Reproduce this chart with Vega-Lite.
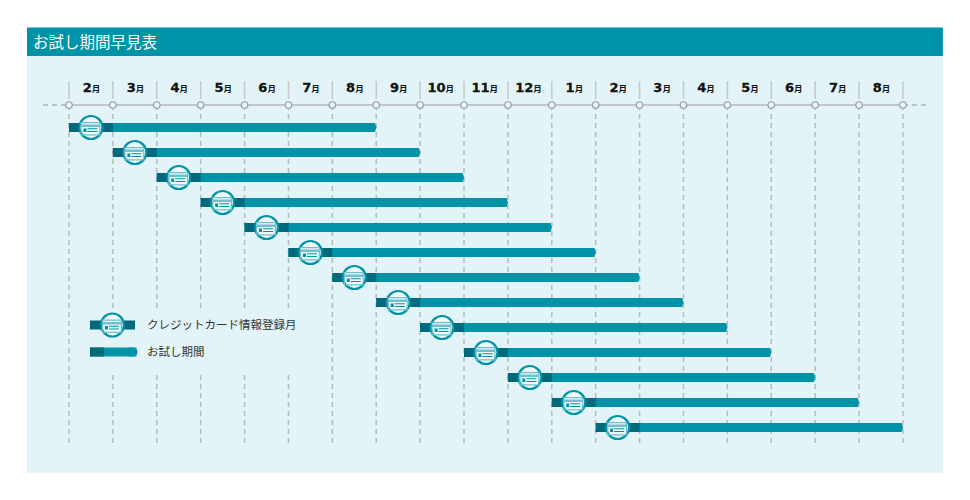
{
"$schema":"https://vega.github.io/schema/vega-lite/v6.json",
"width":970,"height":500,"padding":0,"autosize":{"type":"none"},"background":"#ffffff",
"view":{"stroke":null},
"datasets":{
"ticks":[{"x":0},{"x":1},{"x":2},{"x":3},{"x":4},{"x":5},{"x":6},{"x":7},{"x":8},{"x":9},{"x":10},{"x":11},{"x":12},{"x":13},{"x":14},{"x":15},{"x":16},{"x":17},{"x":18},{"x":19}],
"labels":[{"x":0.52,"m":"2"},{"x":1.52,"m":"3"},{"x":2.52,"m":"4"},{"x":3.52,"m":"5"},{"x":4.52,"m":"6"},{"x":5.52,"m":"7"},{"x":6.52,"m":"8"},{"x":7.52,"m":"9"},{"x":8.58,"m":"10"},{"x":9.58,"m":"11"},{"x":10.58,"m":"12"},{"x":11.52,"m":"1"},{"x":12.52,"m":"2"},{"x":13.52,"m":"3"},{"x":14.52,"m":"4"},{"x":15.52,"m":"5"},{"x":16.52,"m":"6"},{"x":17.52,"m":"7"},{"x":18.52,"m":"8"}],
"bars":[{"y":0,"x":0,"x2":6.9},{"y":1,"x":1,"x2":7.9},{"y":2,"x":2,"x2":8.9},{"y":3,"x":3,"x2":9.9},{"y":4,"x":4,"x2":10.9},{"y":5,"x":5,"x2":11.9},{"y":6,"x":6,"x2":12.9},{"y":7,"x":7,"x2":13.9},{"y":8,"x":8,"x2":14.9},{"y":9,"x":9,"x2":15.9},{"y":10,"x":10,"x2":16.9},{"y":11,"x":11,"x2":17.9},{"y":12,"x":12,"x2":18.9},{"y":8.98,"x":0.478,"x2":1.46}],
"dark":[{"y":0,"x":0,"x2":1},{"y":1,"x":1,"x2":2},{"y":2,"x":2,"x2":3},{"y":3,"x":3,"x2":4},{"y":4,"x":4,"x2":5},{"y":5,"x":5,"x2":6},{"y":6,"x":6,"x2":7},{"y":7,"x":7,"x2":8},{"y":8,"x":8,"x2":9},{"y":9,"x":9,"x2":10},{"y":10,"x":10,"x2":11},{"y":11,"x":11,"x2":12},{"y":12,"x":12,"x2":13},{"y":7.9,"x":0.478,"x2":1.504},{"y":8.98,"x":0.478,"x2":0.797}],
"icons":[{"y":0,"x":0.5},{"y":1,"x":1.5},{"y":2,"x":2.5},{"y":3,"x":3.5},{"y":4,"x":4.5},{"y":5,"x":5.5},{"y":6,"x":6.5},{"y":7,"x":7.5},{"y":8,"x":8.5},{"y":9,"x":9.5},{"y":10,"x":10.5},{"y":11,"x":11.5},{"y":12,"x":12.5},{"y":7.9,"x":0.99}]
},
"encoding":{
"x":{"field":"x","type":"quantitative","axis":null,"scale":{"domain":[-1.572,20.528],"nice":false,"zero":false}},
"y":{"field":"y","type":"quantitative","axis":null,"scale":{"domain":[-5.1,14.9],"nice":false,"zero":false,"reverse":true}}
},
"layer":[
{"data":{"values":[{"x":-0.957,"x2":19.91,"y":-2.86,"y2":13.81}]},"mark":{"type":"rect","fill":"#e2f4f7"},"encoding":{"x2":{"field":"x2"},"y2":{"field":"y2"}}},
{"data":{"values":[{"x":-0.957,"x2":19.91,"y":-4.0,"y2":-2.86}]},"mark":{"type":"rect","fill":"#0093a8"},"encoding":{"x2":{"field":"x2"},"y2":{"field":"y2"}}},
{"data":{"values":[{"x":-0.82,"y":-3.39,"t":"お試し期間早見表"}]},"mark":{"type":"text","align":"left","baseline":"middle","font":"Noto Sans CJK JP","fontSize":15.5,"fill":"#ffffff"},"encoding":{"text":{"field":"t"}}},
{"data":{"name":"ticks"},"transform":[{"calculate":"-1.86","as":"y"},{"calculate":"-1.14","as":"y2"}],"mark":{"type":"rule","stroke":"#c6c8c8","strokeWidth":1.5},"encoding":{"y2":{"field":"y2"}}},
{"data":{"name":"ticks"},"transform":[{"calculate":"-0.9","as":"y"},{"calculate":"12.7","as":"y2"}],"mark":{"type":"rule","stroke":"#b8bbbb","strokeWidth":1.5,"strokeDash":[5,4]},"encoding":{"y2":{"field":"y2"}}},
{"data":{"values":[{"x":0.365,"x2":5.26,"y":7.22,"y2":9.78}]},"mark":{"type":"rect","fill":"#e2f4f7"},"encoding":{"x2":{"field":"x2"},"y2":{"field":"y2"}}},
{"data":{"values":[{"x":0,"x2":19,"y":-0.9}]},"mark":{"type":"rule","stroke":"#9a9c9c","strokeWidth":1.2},"encoding":{"x2":{"field":"x2"}}},
{"data":{"values":[{"x":-0.592,"x2":0,"y":-0.9},{"x":19,"x2":19.62,"y":-0.9}]},"mark":{"type":"rule","stroke":"#8f9191","strokeWidth":1,"strokeDash":[5,4]},"encoding":{"x2":{"field":"x2"}}},
{"data":{"name":"ticks"},"transform":[{"calculate":"-0.9","as":"y"}],"mark":{"type":"point","shape":"circle","size":42,"filled":true,"fill":"#e8f6f8","stroke":"#9a9c9c","strokeWidth":1.2,"opacity":1}},
{"data":{"name":"labels"},"transform":[{"calculate":"-1.42","as":"y"}],"mark":{"type":"text","align":"right","baseline":"alphabetic","font":"DejaVu Sans","fontWeight":"bold","fontSize":13,"fill":"#111111","stroke":"#111111","strokeWidth":0.3},"encoding":{"text":{"field":"m"}}},
{"data":{"name":"labels"},"transform":[{"calculate":"-1.42","as":"y"},{"calculate":"'月'","as":"u"}],"mark":{"type":"text","align":"left","baseline":"alphabetic","font":"Noto Sans CJK JP","fontWeight":"bold","fontSize":8.5,"fill":"#111111"},"encoding":{"text":{"field":"u"}}},
{"data":{"name":"bars"},"mark":{"type":"rule","stroke":"#0093a8","strokeWidth":9},"encoding":{"x2":{"field":"x2"}}},
{"data":{"name":"bars"},"transform":[{"calculate":"datum.x2","as":"x"}],"mark":{"type":"point","shape":"M-1,-1L0.7,-1L1,0L0.7,1L-1,1Z","size":81,"filled":true,"fill":"#0093a8","opacity":1,"strokeWidth":0}},
{"data":{"name":"dark"},"mark":{"type":"rule","stroke":"#00697c","strokeWidth":9},"encoding":{"x2":{"field":"x2"}}},
{"data":{"name":"icons"},"mark":{"type":"point","shape":"circle","size":529,"filled":true,"fill":"#eef9fa","stroke":"#0093a8","strokeWidth":2.2,"opacity":1}},
{"data":{"name":"icons"},"mark":{"type":"point","shape":"M-1.05,-0.55L0.95,-0.55L0.95,0.8L-1.05,0.8ZM-0.93,-0.43L-0.93,0.68L0.83,0.68L0.83,-0.43ZM-0.93,-0.3L0.83,-0.3L0.83,-0.05L-0.93,-0.05Z","size":400,"filled":true,"fill":"#6fc0cf","opacity":1,"strokeWidth":0}},
{"data":{"name":"icons"},"mark":{"type":"point","shape":"M-0.75,0.1L-0.45,0.1L-0.45,0.45L-0.75,0.45ZM-0.35,0.08L0.65,0.08L0.65,0.18L-0.35,0.18ZM-0.35,0.36L0.65,0.36L0.65,0.46L-0.35,0.46Z","size":400,"filled":true,"fill":"#0093a8","opacity":1,"strokeWidth":0}},
{"data":{"values":[{"x":1.777,"y":7.93,"t":"クレジットカード情報登録月"},{"x":1.777,"y":9.01,"t":"お試し期間"}]},"mark":{"type":"text","align":"left","baseline":"middle","font":"Noto Sans CJK JP","fontSize":11.5,"fill":"#333333"},"encoding":{"text":{"field":"t"}}}
]
}
